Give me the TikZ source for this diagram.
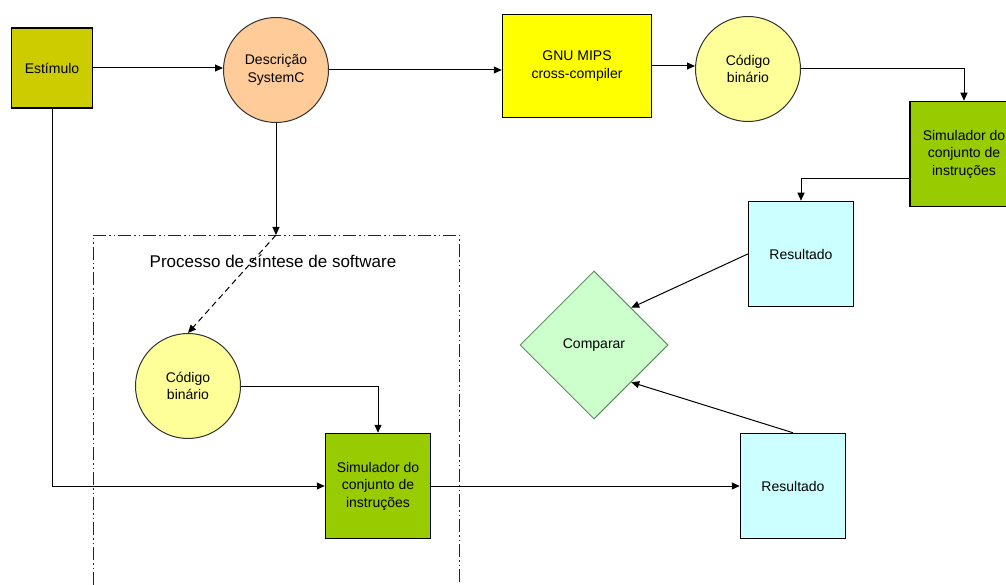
\documentclass[tikz,border=0pt]{standalone}
\usepackage{fontspec}
\setmainfont{Liberation Sans}
\usetikzlibrary{arrows.meta, shapes.geometric}

\definecolor{estimcol}{RGB}{204,204,0}
\definecolor{desccol}{RGB}{255,204,153}
\definecolor{gnucol}{RGB}{255,255,0}
\definecolor{codcol}{RGB}{255,255,153}
\definecolor{simcol}{RGB}{153,204,0}
\definecolor{rescol}{RGB}{204,255,255}
\definecolor{compcol}{RGB}{204,255,204}
\definecolor{compline}{RGB}{100,140,100}

\begin{document}
\begin{tikzpicture}[x=1pt,y=-1pt,
  font=\fontsize{14}{17.5}\selectfont,
  box/.style={draw=black, line width=1.5pt, align=center, inner sep=0pt},
  bubble/.style={circle, draw=black!80, line width=1pt, align=center,
    inner sep=0pt, minimum size=105pt},
  arr/.style={-{Triangle[length=8pt,width=7pt]}, line width=1pt},
  groupline/.style={line width=0.9pt, black!85,
    dash pattern=on 13pt off 3pt on 1.5pt off 3pt on 1.5pt off 3pt}]
\useasboundingbox (0,0) rectangle (1006,585);

% upper row
\node[box, fill=estimcol, minimum width=81pt, minimum height=80pt] (estimulo) at (52,68) {Estímulo};
\node[bubble, fill=desccol] (descricao) at (276,70) {Descrição\\SystemC};
\node[box, fill=gnucol, minimum width=149pt, minimum height=103pt] (gnu) at (577,66) {GNU MIPS\\cross-compiler};
\node[bubble, fill=codcol] (codtop) at (748,69) {Código\\binário};
\node[box, fill=simcol, minimum width=108pt, minimum height=105pt] (simtop) at (964,154) {Simulador do\\conjunto de\\instruções};

% compare
\node[box, fill=rescol, minimum width=105pt, minimum height=105pt] (restop) at (801,254) {Resultado};
\node[diamond, draw=compline, line width=1pt, fill=compcol, aspect=1,
  minimum width=148pt, minimum height=148pt, inner sep=0pt] (comparar) at (594,345) {Comparar};
\node[box, fill=rescol, minimum width=105pt, minimum height=105pt] (resbot) at (793,486) {Resultado};

% software synthesis
\draw[groupline] (93,585) -- (93,235) -- (459,235) -- (459,585);
\node (grouplabel) at (273,261) {\fontsize{17}{20}\selectfont Processo de síntese de software};
\coordinate (gtop) at (276,235);
\node[bubble, fill=codcol] (codbot) at (188,386) {Código\\binário};
\node[box, fill=simcol, minimum width=105pt, minimum height=105pt] (simbot) at (378,486) {Simulador do\\conjunto de\\instruções};

% connectors
\draw[arr] (estimulo.east) -- (estimulo.east -| descricao.west);
\draw[arr] (descricao.east) -- (descricao.east -| gnu.west);
\draw[arr] (gnu.east) -- (gnu.east -| codtop.west);
\draw[arr] (codtop.east) -| (simtop.north);
\draw[arr] ([yshift=-25pt]simtop.west) -| (restop.north);
\draw[arr] (restop.west) -- (comparar.north east);
\draw[arr] (resbot.north) -- (comparar.south east);
\draw[arr] (descricao.south) -- (gtop);
\draw[arr, dashed, dash pattern=on 6pt off 4pt] (gtop) -- (codbot.north);
\draw[arr] (codbot.east) -| (simbot.north);
\draw[arr] (estimulo.south) |- (simbot.west);
\draw[arr] (simbot.east) -- (resbot.west);
\end{tikzpicture}
\end{document}
